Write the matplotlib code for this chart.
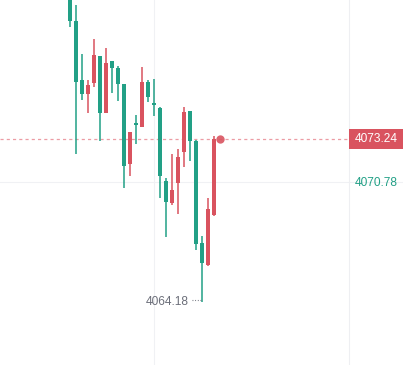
import matplotlib
matplotlib.use("Agg")
import matplotlib.pyplot as plt
import matplotlib.patches as patch
import matplotlib.transforms as mtrans

# candle data (red = up, green = down, chinese convention)
opens  = [4081.20, 4079.81, 4076.50, 4075.73, 4076.33, 4077.83, 4074.68, 4077.55, 4077.16, 4076.28,
          4071.86, 4074.12, 4073.90, 4076.39, 4075.23, 4074.95, 4070.92, 4069.70, 4070.81, 4072.52,
          4074.79, 4073.13, 4067.44, 4066.22, 4069.04]
highs  = [4081.75, 4080.70, 4077.99, 4076.50, 4078.82, 4077.85, 4078.27, 4077.60, 4077.27, 4076.30,
          4073.65, 4074.57, 4077.22, 4076.50, 4076.56, 4075.00, 4071.09, 4072.41, 4072.69, 4075.01,
          4074.80, 4073.18, 4067.83, 4069.98, 4073.41]
lows   = [4079.48, 4072.41, 4075.39, 4074.68, 4076.11, 4073.13, 4074.66, 4075.78, 4075.34, 4070.53,
          4071.20, 4072.96, 4073.88, 4075.28, 4074.51, 4069.98, 4067.77, 4069.59, 4069.10, 4071.69,
          4072.02, 4067.05, 4064.18, 4066.20, 4068.99]
closes = [4079.81, 4076.39, 4075.73, 4076.22, 4077.88, 4074.68, 4077.49, 4077.16, 4076.28, 4071.75,
          4073.63, 4074.01, 4076.39, 4075.56, 4075.12, 4071.20, 4069.76, 4070.42, 4072.25, 4074.73,
          4073.13, 4067.38, 4066.33, 4069.37, 4073.24]

lastPrice = 4073.24
otherPrice = 4070.78
lowPrice = 4064.18
gridPrice = 4070.86

upColor = '#D9535F'
downColor = '#22A086'

fig = plt.figure(figsize=(4.03, 3.65), dpi=100)
ax = fig.add_axes([0, 0, 1, 1])
fig.patch.set_facecolor('white')

# x in candle index, 6 px per candle, first candle at px 70
pxPer = 6.0
ax.set_xlim(-70 / pxPer, (403 - 70) / pxPer)
# 18 px per point, last price at px 139
ax.set_ylim(lastPrice - 226 / 18.0, lastPrice + 139 / 18.0)
ax.axis('off')

# light grid
ax.axhline(gridPrice, color='#f0f1f4', lw=0.8, zorder=0)
ax.axvline(14, color='#f0f1f4', lw=0.8, zorder=0)
ax.axvline((349 - 70) / pxPer, color='#eeeff2', lw=0.8, zorder=0)

# candles
for i in range(len(opens)):
    col = upColor if closes[i] >= opens[i] else downColor
    ax.vlines(i, lows[i], highs[i], color=col, lw=1.1, zorder=2)
    bottom = min(opens[i], closes[i])
    height = max(abs(closes[i] - opens[i]), 0.12)
    ax.add_patch(patch.Rectangle((i - 0.36, bottom), 0.72, height, color=col, lw=0, zorder=3))

# last price dashed line and dot
ax.plot([ax.get_xlim()[0], (349 - 70) / pxPer], [lastPrice, lastPrice],
        color='#e8838e', lw=0.9, ls=(0, (2.5, 2.5)), zorder=1, alpha=0.8)
ax.plot([len(opens)], [lastPrice], 'o', color=upColor, ms=6, mec='none', zorder=4, alpha=0.9)

# price scale label
blend = mtrans.blended_transform_factory(ax.transAxes, ax.transData)
ax.add_patch(patch.Rectangle((349 / 403, lastPrice - 0.53), 54 / 403, 1.06,
                             transform=blend, color=upColor, lw=0, zorder=5))
ax.text(376 / 403, lastPrice, f"{lastPrice:.2f}", transform=blend, ha='center', va='center',
        color='white', fontsize=8.6, family='Liberation Sans', zorder=6)
ax.text(376 / 403, otherPrice, f"{otherPrice:.2f}", transform=blend, ha='center', va='center',
        color=downColor, fontsize=8.6, family='Liberation Sans')

# lowest price marker
lowIdx = lows.index(min(lows))
ax.text(lowIdx - 2.2, lowPrice, f"{lowPrice:.2f}", ha='right', va='center',
        color='#6b6e79', fontsize=8.6, family='Liberation Sans')
ax.plot([lowIdx - 1.6, lowIdx - 0.2], [lowPrice + 0.1, lowPrice + 0.1],
        color='#6b6e79', lw=0.8, ls=(0, (0.8, 1.6)))

fig.savefig("out.png", dpi=100, facecolor='white')
